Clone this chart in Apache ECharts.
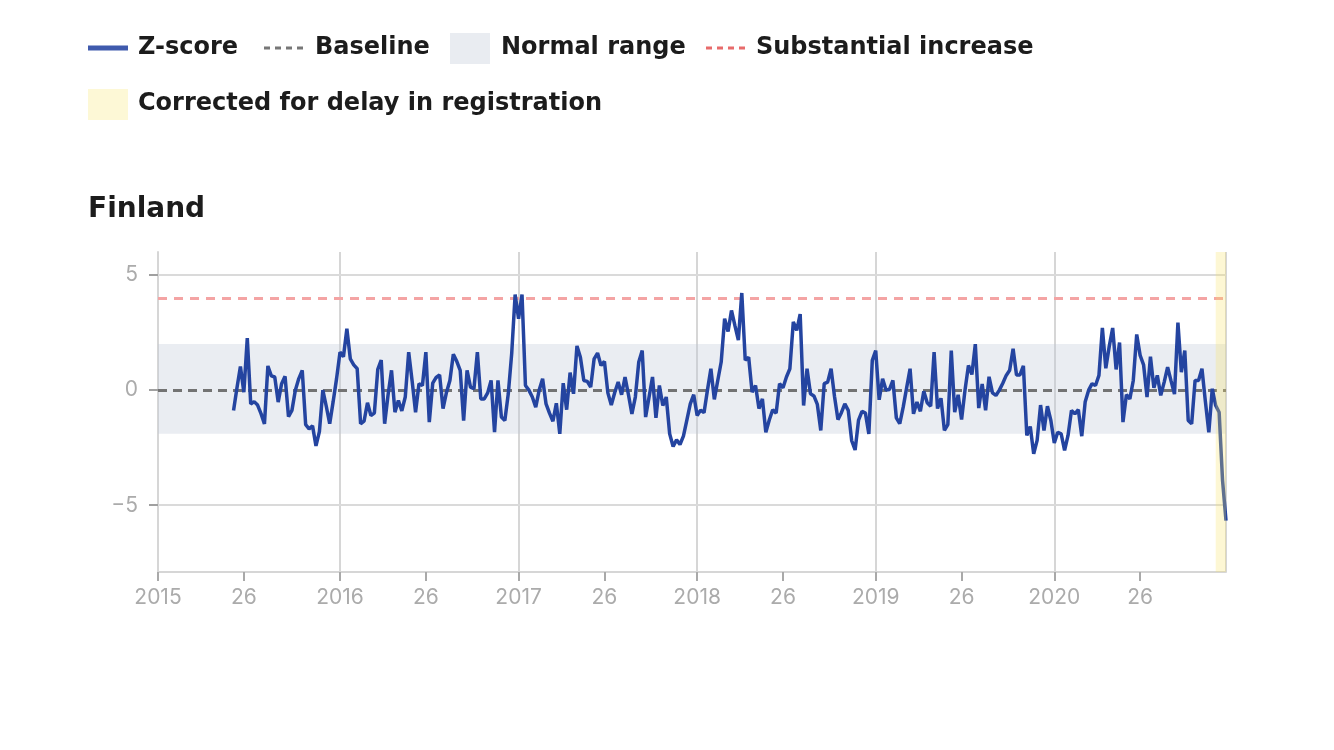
<!DOCTYPE html>
<html>
<head>
<meta charset="utf-8">
<script src="https://cdn.jsdelivr.net/npm/echarts@6/dist/echarts.min.js"></script>
<style>
html,body{margin:0;padding:0;background:#fff;}
#chart{width:1334px;height:750px;}
</style>
</head>
<body>
<div id="chart"></div>
<script>
// ---- data ----
const years = [2015, 2016, 2017, 2018, 2019, 2020];
const weeksPerYear = [53, 52, 52, 52, 52, 51];
const firstDataWeek = '2015-W23';
const zscore = [
  -0.88, 0.1, 1.03, -0.09, 2.26, -0.6, -0.5, -0.65, -1.02, -1.47,
  1.05, 0.62, 0.57, -0.52, 0.28, 0.6, -1.15, -0.88, 0.0, 0.5,
  0.86, -1.5, -1.68, -1.55, -2.42, -1.8, 0.0, -0.7, -1.46, -0.5,
  0.5, 1.65, 1.45, 2.67, 1.36, 1.1, 0.93, -1.46, -1.35, -0.55,
  -1.1, -1.0, 0.9, 1.3, -1.46, -0.2, 0.86, -0.96, -0.45, -0.9,
  -0.3, 1.65, 0.4, -0.96, 0.28, 0.2, 1.65, -1.39, 0.3, 0.55,
  0.66, -0.8, -0.1, 0.42, 1.56, 1.25, 0.86, -1.32, 0.86, 0.13,
  0.06, 1.65, -0.38, -0.38, -0.12, 0.42, -1.83, 0.42, -1.17, -1.32,
  -0.16, 1.6, 4.15, 3.1, 4.15, 0.2, 0.0, -0.3, -0.74, 0.0,
  0.49, -0.6, -1.0, -1.35, -0.57, -1.9, 0.3, -0.85, 0.76, -0.16,
  1.92, 1.43, 0.42, 0.38, 0.13, 1.36, 1.61, 1.07, 1.25, -0.12,
  -0.65, -0.1, 0.35, -0.2, 0.57, -0.2, -1.03, -0.3, 1.22, 1.72,
  -1.17, -0.3, 0.57, -1.2, 0.2, -0.67, -0.3, -1.9, -2.45, -2.16,
  -2.36, -2.0, -1.3, -0.6, -0.2, -1.1, -0.87, -0.98, 0.0, 0.93,
  -0.4, 0.42, 1.22, 3.1, 2.55, 3.46, 2.8, 2.17, 4.22, 1.3,
  1.43, -0.09, 0.2, -0.8, -0.38, -1.83, -1.3, -0.85, -1.0, 0.28,
  0.1, 0.57, 0.93, 2.96, 2.6, 3.3, -0.67, 0.93, -0.16, -0.25,
  -0.62, -1.75, 0.28, 0.35, 0.93, -0.28, -1.28, -0.98, -0.6, -0.88,
  -2.19, -2.6, -1.3, -0.92, -1.0, -1.9, 1.29, 1.72, -0.42, 0.49,
  0.0, 0.03, 0.42, -1.2, -1.46, -0.74, 0.1, 0.93, -1.03, -0.52,
  -0.92, -0.05, -0.55, -0.7, 1.65, -0.8, -0.35, -1.75, -1.5, 1.72,
  -0.96, -0.2, -1.28, 0.0, 1.07, 0.68, 2.0, -0.78, 0.27, -0.88,
  0.58, -0.12, -0.23, 0.0, 0.3, 0.64, 0.86, 1.8, 0.66, 0.66,
  1.05, -1.97, -1.58, -2.77, -2.18, -0.65, -1.75, -0.7, -1.32, -2.3,
  -1.83, -1.9, -2.62, -1.97, -0.88, -1.03, -0.85, -2.0, -0.5, 0.0,
  0.28, 0.2, 0.64, 2.7, 0.95, 1.9, 2.7, 0.9, 2.07, -1.39,
  -0.2, -0.38, 0.42, 2.42, 1.51, 1.1, -0.3, 1.45, 0.1, 0.64,
  -0.23, 0.35, 1.0, 0.4, -0.17, 2.93, 0.78, 1.72, -1.32, -1.46,
  0.42, 0.42, 0.93, -0.5, -1.83, 0.06, -0.67, -0.96, -3.93, -5.67
];
const baselineValue = 0;
const normalRange = [-1.9, 2];
const substantialIncrease = 4;
const correctedWeeks = ['2020-W48', '2020-W51'];
const yTickValues = [-5, 0, 5];
const yGridValues = [-5, 5];
const labelWeeks = [1, 26];
const yRange = [-7.9, 6];

// ---- categories ----
const categories = [];
years.forEach((y, i) => {
  for (let w = 1; w <= weeksPerYear[i]; w++) {
    categories.push(y + '-W' + String(w).padStart(2, '0'));
  }
});
const startIdx = categories.indexOf(firstDataWeek);
const seriesData = categories.map((c, i) => {
  const k = i - startIdx;
  return (k >= 0 && k < zscore.length) ? zscore[k] : null;
});
const weekOf = v => parseInt(String(v).split('-W')[1], 10);
const yearOf = v => String(v).split('-W')[0];
const isLabelWeek = (i, v) => labelWeeks.indexOf(weekOf(v)) >= 0;

const BOLD_FONT = '"DejaVu Sans", "Noto Sans", sans-serif';
const AXIS_FONT = 'Inter, "Noto Sans", sans-serif';
const chart = echarts.init(document.getElementById('chart'), null, {renderer: 'canvas'});

const legendText = (x, y, t) => ({
  type: 'text', x: x, y: y,
  style: {text: t, fontFamily: BOLD_FONT, fontWeight: 700, fontSize: 24, fill: '#1c1c1c', verticalAlign: 'middle', align: 'left'}
});

chart.setOption({
  animation: false,
  backgroundColor: '#ffffff',
  title: {
    text: 'Finland', left: 83, top: 191,
    textStyle: {fontFamily: BOLD_FONT, fontWeight: 700, fontSize: 28, color: '#1c1c1c'}
  },
  grid: {left: 158, right: 108, top: 252, bottom: 178, containLabel: false},
  xAxis: {
    type: 'category', data: categories, boundaryGap: false,
    axisLine: {show: true, onZero: false, lineStyle: {color: '#d6d6d6', width: 2}},
    axisTick: {show: true, interval: isLabelWeek, length: 9, lineStyle: {color: '#a9a9a9', width: 2}},
    axisLabel: {
      interval: isLabelWeek,
      formatter: v => weekOf(v) === 1 ? yearOf(v) : String(weekOf(v)),
      color: '#ababab', fontSize: 21, fontFamily: AXIS_FONT, margin: 15
    },
    splitLine: {
      show: true,
      interval: (i, v) => weekOf(v) === 1 || i === categories.length - 1,
      lineStyle: {color: '#d6d6d6', width: 2}
    }
  },
  yAxis: {
    type: 'value', min: yRange[0], max: yRange[1],
    axisLine: {show: true, onZero: false, lineStyle: {color: '#d6d6d6', width: 2}},
    axisTick: {show: true, customValues: yTickValues, length: 9, lineStyle: {color: '#a0a0a0', width: 2}},
    axisLabel: {
      customValues: yTickValues,
      formatter: v => v < 0 ? '\u2212' + Math.abs(v) : String(v),
      color: '#ababab', fontSize: 21, fontFamily: AXIS_FONT, margin: 20
    },
    splitLine: {show: false}
  },
  series: [
    {
      name: 'reference', type: 'line', data: [], silent: true, z: 1,
      markArea: {
        silent: true, z: 1,
        itemStyle: {color: 'rgba(190,200,215,0.33)'},
        data: [[{yAxis: normalRange[0]}, {yAxis: normalRange[1]}]]
      },
      markLine: {
        silent: true, z: 1, symbol: ['none', 'none'], label: {show: false},
        data: yGridValues.map(v => ({yAxis: v, lineStyle: {color: '#dadada', width: 2, type: 'solid'}})).concat([
          {yAxis: baselineValue, lineStyle: {color: '#737373', width: 3, type: [9, 6]}},
          {yAxis: substantialIncrease, lineStyle: {color: '#f4a4a4', width: 3, type: [9, 7]}}
        ])
      }
    },
    {
      name: 'Z-score', type: 'line', data: seriesData, z: 2,
      showSymbol: false, symbol: 'none', connectNulls: false,
      lineStyle: {color: '#2444a0', width: 3.5},
      itemStyle: {color: '#2444a0'}
    },
    {
      name: 'corrected', type: 'line', data: [], silent: true, z: 3,
      markArea: {
        silent: true, z: 3,
        itemStyle: {color: 'rgba(248,227,100,0.28)'},
        data: [[{xAxis: correctedWeeks[0]}, {xAxis: correctedWeeks[1]}]]
      }
    }
  ],
  graphic: [
    {type: 'line', shape: {x1: 88, y1: 48, x2: 128, y2: 48}, style: {stroke: '#3f5aad', lineWidth: 5}},
    legendText(138, 48, 'Z-score'),
    {type: 'line', shape: {x1: 264, y1: 48, x2: 304, y2: 48}, style: {stroke: '#777777', lineWidth: 3, lineDash: [6, 5]}},
    legendText(315, 48, 'Baseline'),
    {type: 'rect', shape: {x: 450, y: 33, width: 40, height: 31}, style: {fill: '#e9ecf1'}},
    legendText(501, 48, 'Normal range'),
    {type: 'line', shape: {x1: 706, y1: 48, x2: 746, y2: 48}, style: {stroke: '#e86b6b', lineWidth: 3, lineDash: [6, 5]}},
    legendText(756, 48, 'Substantial increase'),
    {type: 'rect', shape: {x: 88, y: 89, width: 40, height: 31}, style: {fill: '#fdf8d6'}},
    legendText(138, 104, 'Corrected for delay in registration')
  ]
});
</script>
</body>
</html>
